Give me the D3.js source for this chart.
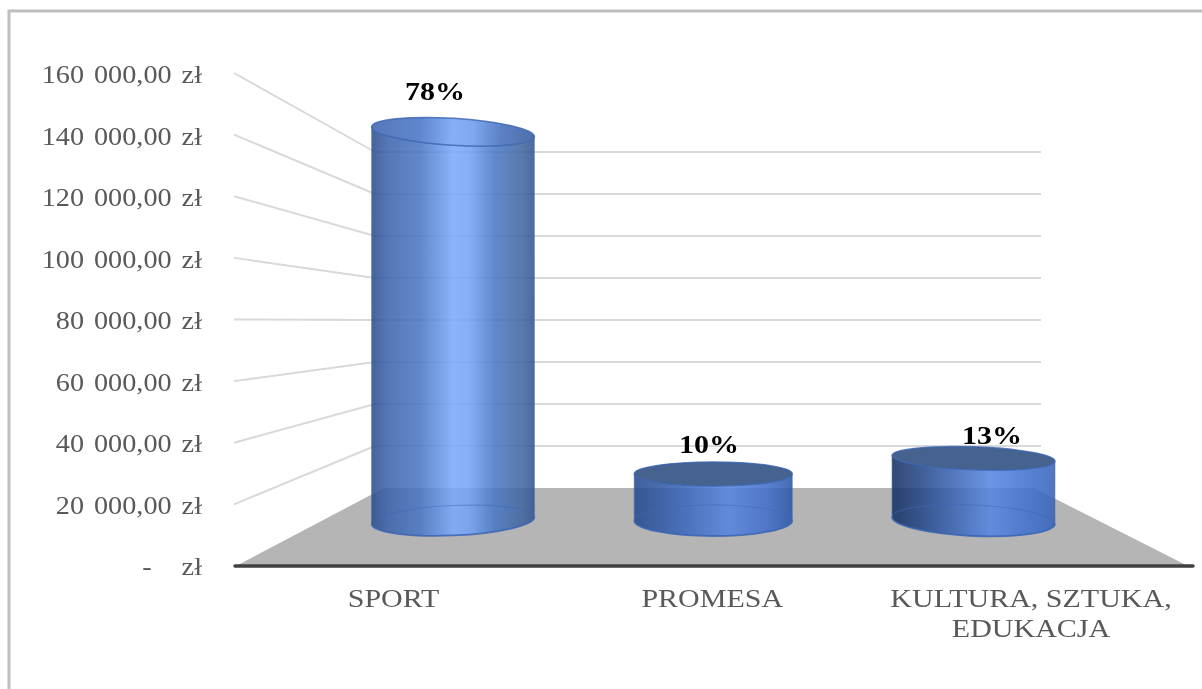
<!DOCTYPE html>
<html><head><meta charset="utf-8">
<script src="https://cdnjs.cloudflare.com/ajax/libs/d3/7.8.5/d3.min.js"></script>
<style>html,body{margin:0;padding:0;background:#fff;overflow:hidden}text{font-family:"Liberation Serif",serif}svg{filter:blur(0.45px)}</style>
</head><body><svg id="c" width="1202" height="689"></svg>
<script>
const categories = ["SPORT","PROMESA","KULTURA, SZTUKA,|EDUKACJA"];
const values = [154500,18500,24700];
const shares = ["78%","10%","13%"];
const tickValues = [0,20000,40000,60000,80000,100000,120000,140000,160000];
const tickLabels = ["-\u00a0\u00a0\u00a0zł","20 000,00 zł","40 000,00 zł","60 000,00 zł","80 000,00 zł","100 000,00 zł","120 000,00 zł","140 000,00 zł","160 000,00 zł"];

const svg = d3.select("#c");
const yFront = d3.scaleLinear().domain([0,160000]).range([566,73]);
const yBack = d3.scaleLinear().domain([0,160000]).range([488,152]);
const yLabel = d3.scaleLinear().domain([0,160000]).range([575,83]);
const yMid = d3.scaleLinear().domain([0,160000]).range([520.5,118]);
const xBar = d3.scalePoint().domain(categories).range([453,973.5]);
const xCat = d3.scalePoint().domain(categories).range([393.5,1031]);

const alpha = .87;
const style = [
 {rx:81.5,ryT:13.5,ryB:15,tT:3.5,tB:-2.5,stops:[[0,"#46649a"],[.1,"#5577b6"],[.3,"#6288cc"],[.5,"#8ab3fb"],[.6,"#84aef6"],[.75,"#618ace"],[.93,"#5a78aa"],[1,"#4c6a9e"]],top:null},
 {rx:79,ryT:12,ryB:15.5,tT:0,tB:0,stops:[[0,"#41609a"],[.3,"#5279c2"],[.6,"#6b94e4"],[.85,"#5980cf"],[1,"#456bb2"]],top:"#46638f"},
 {rx:81.5,ryT:11.5,ryB:15.5,tT:2,tB:2.5,stops:[[0,"#324a74"],[.2,"#42619c"],[.6,"#6b96e6"],[.85,"#5781d3"],[1,"#4e76c2"]],top:"#46638f"}
];
const comp = col=>{const c=d3.rgb(col),f=v=>Math.max(0,Math.round((v-255*(1-alpha))/alpha));return d3.rgb(f(c.r),f(c.g),f(c.b)).formatHex();};
const defs = svg.append("defs");
style.forEach((s,i)=>{
  const g = defs.append("linearGradient").attr("id","g"+i).attr("x1","0").attr("x2","1").attr("y1","0").attr("y2","0");
  s.stops.forEach(t=>g.append("stop").attr("offset",t[0]).attr("stop-color",comp(t[1])));
});
const gt = defs.append("linearGradient").attr("id","gtop").attr("x1","0").attr("x2","1").attr("y1","0").attr("y2","0");
[[0,"#5578b8"],[.3,"#5f86cf"],[.5,"#86aff5"],[.62,"#7ea8f0"],[.8,"#5b80c4"],[1,"#4f6fa8"]].forEach(t=>gt.append("stop").attr("offset",t[0]).attr("stop-color",t[1]));

// frame
svg.append("path").attr("d","M9,689V11H1202").attr("fill","none").attr("stroke","#bfbfbf").attr("stroke-width",3);

// floor
svg.append("path").attr("d",`M236,${yFront(0)}L384,${yBack(0)}H1034L1188,${yFront(0)}Z`).attr("fill","#b5b5b5");

// gridlines
tickValues.filter(v=>v>0).forEach(v=>{
  svg.append("line").attr("x1",234).attr("y1",yFront(v)).attr("x2",375).attr("y2",yBack(v)).attr("stroke","#d9d9d9").attr("stroke-width",2);
  svg.append("line").attr("x1",375).attr("y1",yBack(v)).attr("x2",1041).attr("y2",yBack(v)).attr("stroke","#d9d9d9").attr("stroke-width",2);
});

// axis
svg.append("line").attr("x1",235).attr("x2",1193).attr("y1",yFront(0)).attr("y2",yFront(0)).attr("stroke","#404040").attr("stroke-width",3.5).attr("stroke-linecap","round");

function stretched(x,y,t,anchor,hx,opts={}){
  return svg.append("text").attr("transform",`translate(${x},${y}) scale(${hx},1)`).attr("text-anchor",anchor)
    .attr("font-size",25).attr("font-weight",opts.weight||"normal").attr("word-spacing",opts.ws||0).attr("fill",opts.fill||"#595959").text(t);
}
tickValues.forEach((v,i)=>stretched(202,yLabel(v),tickLabels[i],"end",1.13,{ws:2.6}));

// cylinders
const rad = d=>d*Math.PI/180;
categories.forEach((c,i)=>{
  const s = style[i], cx = xBar(c), yT = yMid(values[i]), yB = yMid(0);
  const dxT = s.rx*Math.cos(rad(s.tT)), dyT = s.rx*Math.sin(rad(s.tT));
  const dxB = s.rx*Math.cos(rad(s.tB)), dyB = s.rx*Math.sin(rad(s.tB));
  const g = svg.append("g");
  g.append("path").attr("d",
    `M${cx-dxT},${yT-dyT}L${cx-dxB},${yB-dyB}A${s.rx},${s.ryB} ${s.tB} 0 0 ${cx+dxB},${yB+dyB}L${cx+dxT},${yT+dyT}A${s.rx},${s.ryT} ${s.tT} 0 1 ${cx-dxT},${yT-dyT}Z`)
    .attr("fill",`url(#g${i})`).attr("fill-opacity",alpha);
  g.append("path").attr("d",`M${cx-dxB},${yB-dyB}A${s.rx},${s.ryB} ${s.tB} 0 1 ${cx+dxB},${yB+dyB}`)
    .attr("fill","none").attr("stroke","#3f68b8").attr("stroke-opacity",.5).attr("stroke-width",1.2);
  g.append("path").attr("d",`M${cx-dxB},${yB-dyB}A${s.rx},${s.ryB} ${s.tB} 0 0 ${cx+dxB},${yB+dyB}`)
    .attr("fill","none").attr("stroke","#3a64b4").attr("stroke-opacity",.85).attr("stroke-width",1.8);
  g.append("ellipse").attr("transform",`translate(${cx},${yT}) rotate(${s.tT})`).attr("rx",s.rx).attr("ry",s.ryT)
    .attr("fill",s.top||"url(#gtop)").attr("stroke","#3a62ae").attr("stroke-opacity",.8).attr("stroke-width",1.5);
  [-1,1].forEach(k=>g.append("line").attr("x1",cx+k*dxT).attr("y1",yT+k*dyT).attr("x2",cx+k*dxB).attr("y2",yB+k*dyB).attr("stroke","#3f64a8").attr("stroke-opacity",.45).attr("stroke-width",1.2));
});

// share labels
const shareX = [435,709,992], shareOff = [32,21,14];
categories.forEach((c,i)=>stretched(shareX[i],yMid(values[i])-shareOff[i],shares[i],"middle",1.2,{weight:"bold",fill:"#000"}));

// category labels
categories.forEach(c=>c.split("|").forEach((t,j)=>stretched(xCat(c),607+j*30,t,"middle",1.2)));
</script></body></html>
